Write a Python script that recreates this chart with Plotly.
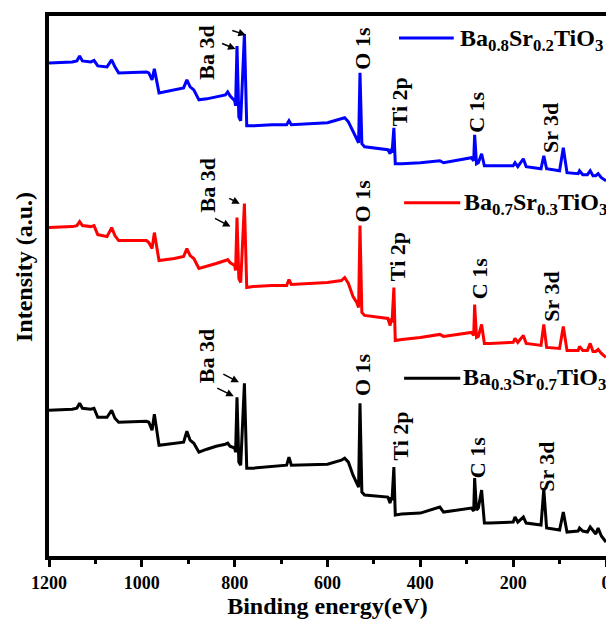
import plotly.graph_objects as go

# ---------------- data ----------------
energy = [1200, 1150, 1140, 1134, 1128, 1110, 1103, 1095, 1075, 1065, 1058, 1050,
          990, 985, 978, 973, 963, 930, 910, 903, 896, 888, 877, 860, 840, 820,
          815, 810, 800, 798, 795, 791, 787, 779, 774, 760, 720, 688, 683, 678,
          600, 570, 563, 555, 545, 537, 533, 530, 526, 520, 470, 465, 463, 461,
          457, 454, 440, 400, 358, 350, 300, 290, 285, 283, 279, 275, 268, 262,
          250, 200, 196, 190, 178, 172, 140, 134, 128, 100, 92, 84, 60, 57, 50,
          40, 34, 28, 22, 17, 10, 0]

bst82 = [118, 119, 120, 125, 120, 119, 120.5, 115, 114, 121, 114, 108,
         109, 108, 101, 112, 88, 91, 93, 101, 94, 91, 81, 82, 84, 86,
         89, 85, 80, 75, 135, 64, 60, 147, 55, 55, 56, 56, 60, 56,
         58, 62, 63, 59, 49, 42, 38, 108, 37, 34, 31, 27, 32, 28,
         53, 17, 17, 18, 20, 18, 22, 23, 20, 46, 17, 18, 27, 15,
         15, 15, 18, 14, 22, 14, 12, 25, 12, 10, 33, 8, 7, 10, 6,
         6, 10, 5, 5, 7, 3, 0]

bst73 = [130, 131, 132, 136, 132, 131, 132, 123, 121, 130, 122, 117,
         117, 115, 109, 125, 97, 99, 101, 109, 102, 99, 89, 91, 94, 97,
         98, 95, 92, 87, 140, 79, 75, 154, 70, 71, 72, 72, 78, 73,
         75, 77, 80, 74, 61, 55, 50, 132, 45, 42, 39, 32, 39, 35,
         70, 17, 18, 20, 23, 21, 24, 25, 22, 53, 20, 21, 33, 14,
         14, 15, 19, 15, 22, 14, 12, 33, 10, 9, 31, 7, 7, 11, 7,
         7, 14, 6, 6, 8, 4, 0]

bst37 = [132, 133, 134, 139, 134, 133, 134, 125, 125, 132, 124, 120,
         121, 120, 112, 128, 97, 99, 100, 111, 102, 99, 90, 93, 96, 98,
         99, 96, 94, 90, 145, 80, 77, 159, 74, 74, 76, 77, 85, 77,
         78, 82, 84, 80, 67, 60, 55, 139, 50, 47, 45, 39, 45, 42,
         75, 27, 28, 29, 35, 30, 33, 34, 31, 64, 32, 34, 52, 19,
         19, 20, 25, 20, 25, 19, 17, 53, 14, 12, 30, 10, 11, 14, 11,
         10, 15, 11, 8, 14, 6, 0]

series = [bst82, bst73, bst37]
series_names = ["Ba<sub>0.8</sub>Sr<sub>0.2</sub>TiO<sub>3</sub>",
                "Ba<sub>0.7</sub>Sr<sub>0.3</sub>TiO<sub>3</sub>",
                "Ba<sub>0.3</sub>Sr<sub>0.7</sub>TiO<sub>3</sub>"]
offsets = [378, 201, 16]
colors = ["#0000FF", "#FF0000", "#000000"]
x_ticks = [1200, 1000, 800, 600, 400, 200, 0]
peak_names = ["Ba 3d", "O 1s", "Ti 2p", "C 1s", "Sr 3d"]

assert all(len(s) == len(energy) for s in series)

# ---------------- figure ----------------
FONT = "Liberation Serif"
fig = go.Figure()
for vals, off, col, name in zip(series, offsets, colors, series_names):
    fig.add_trace(go.Scatter(x=energy, y=[v + off for v in vals], mode="lines",
                             name=name, line=dict(color=col, width=3),
                             showlegend=False))

# peak label positions (energy, intensity) for each spectrum
label_pos = [
    [(860, 506), (524, 511), (445, 457), (278, 447), (118, 431)],
    [(858, 373), (524, 358), (449, 302), (272, 280), (118, 262)],
    [(860, 202), (524, 184), (443, 122), (278, 101), (128, 91)],
]
arrow_pos = [
    [(798, 510, -15, -6), (776, 524, -15, -5)],
    [(809, 332, -17, -9), (789, 355, -12, -6)],
    [(802, 162, -18, -9), (791, 176, -17, -9)],
]
legend_pos = [(446, 328, 521, 319, 519),
              (435, 314, 356, 310, 355),
              (435, 314, 180, 313, 179)]

for lp, ap, lg, col, name in zip(label_pos, arrow_pos, legend_pos, colors, series_names):
    for (x, y), txt in zip(lp, peak_names):
        fig.add_annotation(x=x, y=y, text="<b>%s</b>" % txt, textangle=-90, showarrow=False,
                           xanchor="center", yanchor="middle",
                           font=dict(family=FONT, size=22, color="black"))
    for (x, y, ax, ay) in ap:
        fig.add_annotation(x=x, y=y, text="", showarrow=True, ax=ax, ay=ay,
                           arrowhead=2, arrowsize=1, arrowwidth=1.5, arrowcolor="black")
    x0, x1, ly, tx, ty = lg
    fig.add_shape(type="line", x0=x0, x1=x1, y0=ly, y1=ly, xref="x", yref="y",
                  line=dict(color=col, width=3))
    fig.add_annotation(x=tx, y=ty, text="<b>%s</b>" % name, showarrow=False, xanchor="left",
                       yanchor="middle",
                       font=dict(family=FONT, size=24, color="black"))

fig.add_annotation(xref="paper", yref="paper", x=-0.045, y=0.535,
                   text="<b>Intensity (a.u.)</b>",
                   textangle=-90, showarrow=False, xanchor="center", yanchor="middle",
                   font=dict(family=FONT, size=24, color="black"))

# the page body has an 8 px default margin, so the figure is sized 8 px smaller
fig.update_layout(
    width=606, height=618,
    margin=dict(l=41, r=4, t=7, b=70),
    plot_bgcolor="white", paper_bgcolor="white",
    showlegend=False,
    font=dict(family=FONT, color="black"),
    xaxis=dict(range=[1200, 0], tickmode="array", tickvals=x_ticks,
               ticktext=["<b>%d</b>" % v for v in x_ticks],
               ticks="outside", ticklen=7, tickwidth=3, tickcolor="black",
               minor=dict(tickmode="array", tickvals=[1100, 900, 700, 500, 300, 100],
                          ticks="outside", ticklen=4, tickwidth=3, tickcolor="black"),
               showline=True, linewidth=4, linecolor="black", mirror=True,
               showgrid=False, zeroline=False,
               tickfont=dict(family=FONT, size=18, color="black"),
               title=dict(text="<b>Binding energy(eV)</b>", standoff=6,
                          font=dict(family=FONT, size=24, color="black"))),
    yaxis=dict(range=[2, 543], showticklabels=False, ticks="",
               showline=True, linewidth=4, linecolor="black", mirror=True,
               showgrid=False, zeroline=False),
)

fig.write_html("out.html")
